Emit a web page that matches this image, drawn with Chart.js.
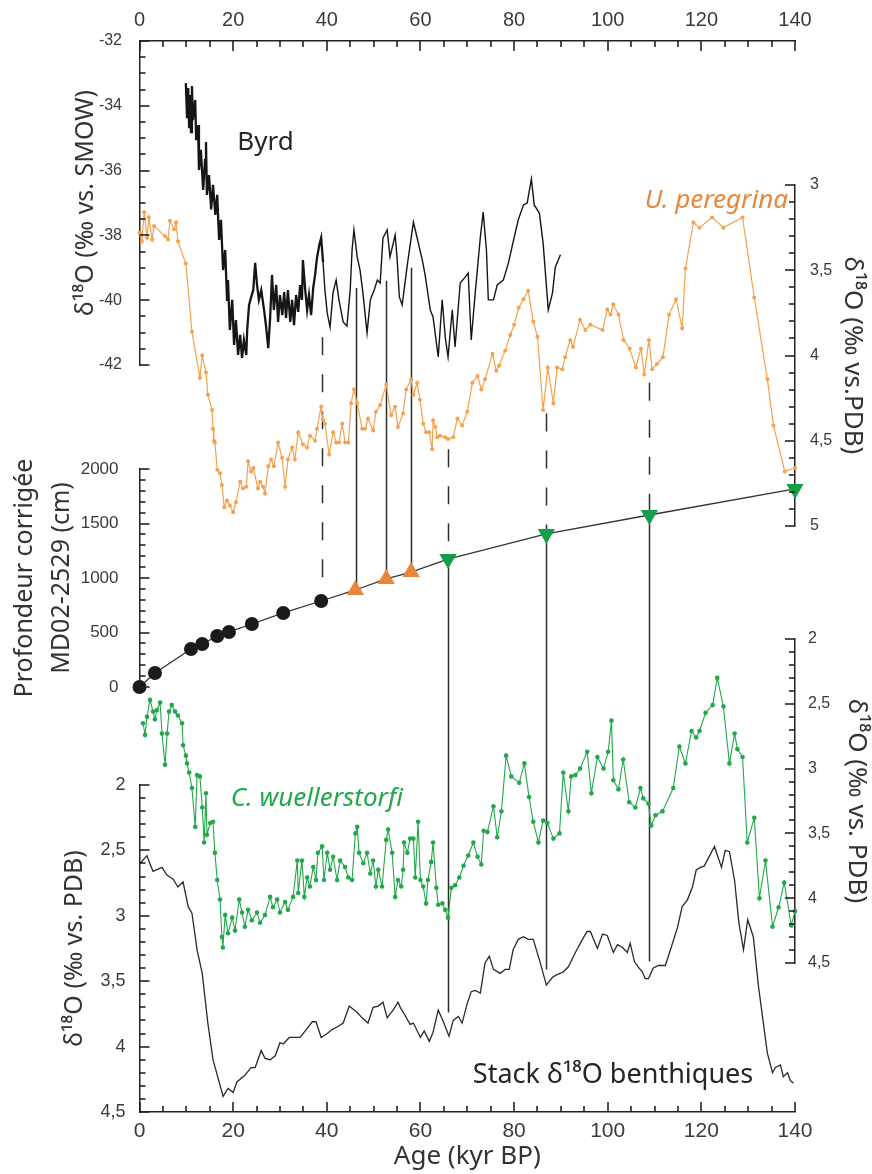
<!DOCTYPE html>
<html>
<head>
<meta charset="utf-8">
<script src="https://cdn.jsdelivr.net/npm/chart.js@4.4.1/dist/chart.umd.min.js"></script>
<style>
  html, body { margin: 0; padding: 0; background: #fff; }
  #wrap { width: 872px; height: 1174px; }
</style>
</head>
<body>
<div id="wrap"><canvas id="chart" width="872" height="1174"></canvas></div>
<script>
/* ---- data ---- */

// Byrd ice core d18O (permil vs SMOW)
const byrdAge = [
  9.9, 10.15, 10.4, 10.6, 10.8, 11.0, 11.2, 11.4, 11.9, 12.1,
  12.5, 12.7, 13.1, 13.6, 14.0, 14.2, 14.4, 14.85, 15.3, 15.7,
  16.2, 16.6, 17.0, 17.4, 17.85, 18.3, 18.7, 18.9, 19.3, 19.8,
  20.2, 20.6, 21.05, 21.5, 21.9, 22.3, 22.8, 23.0, 23.4, 23.8,
  24.3, 24.7, 25.1, 25.5, 26.0, 26.6, 27.0, 27.5, 27.9, 28.3,
  28.7, 29.2, 29.6, 30.0, 30.5, 30.9, 31.3, 31.7, 32.2, 32.6,
  33.0, 33.45, 33.9, 34.3, 34.7, 34.9, 35.4, 35.8, 36.2, 36.65,
  37.1, 37.5, 37.9, 38.4, 38.8, 39.2, 39.6, 40.1, 40.7, 41.35,
  42.0, 42.6, 43.5, 44.3, 45.0, 45.4, 45.8, 46.5, 47.1, 47.7,
  48.6, 49.3, 50.1, 50.8, 51.4, 52.0, 52.9, 53.5, 54.6, 55.0,
  55.5, 56.1, 57.2, 58.5, 59.3, 60.4, 61.0, 62.1, 62.7, 63.8,
  64.65, 65.3, 65.9, 66.8, 67.4, 68.5, 69.6, 70.2, 70.85, 71.7,
  72.8, 73.4, 74.1, 74.5, 75.6, 76.4, 77.7, 78.8, 79.9, 80.9,
  82.0, 82.8, 83.7, 84.3, 85.4, 86.2, 87.3, 88.2, 88.8, 89.9
];
const byrdD18O = [
  -33.30, -34.38, -33.45, -34.69, -33.67, -34.81, -33.39, -34.44, -33.82, -35.06,
  -34.59, -35.98, -35.36, -36.60, -35.67, -35.12, -36.75, -36.14, -37.20, -36.44,
  -37.37, -36.75, -38.14, -37.52, -39.07, -38.45, -39.99, -39.38, -40.92, -39.99,
  -41.38, -40.61, -41.69, -41.07, -41.78, -41.23, -41.69, -40.92, -40.15, -39.93,
  -39.69, -38.85, -39.53, -39.99, -39.69, -40.30, -40.77, -41.48, -40.55, -39.22,
  -40.30, -39.53, -40.67, -39.84, -40.46, -39.75, -40.55, -39.69, -40.67, -39.99,
  -40.77, -39.84, -40.36, -39.53, -39.99, -38.76, -39.69, -40.30, -39.84, -40.46,
  -39.62, -39.22, -38.70, -38.30, -38.08, -38.82, -39.69, -40.40, -40.83, -39.75,
  -39.38, -39.99, -40.67, -40.80, -39.69, -38.45, -37.83, -38.67, -39.07, -39.75,
  -41.01, -39.99, -39.69, -39.38, -39.47, -38.08, -37.83, -38.67, -37.99, -38.67,
  -39.90, -40.15, -38.91, -37.59, -38.08, -38.76, -39.22, -40.30, -40.52, -41.75,
  -39.99, -41.14, -41.75, -40.30, -41.44, -39.47, -39.28, -39.16, -41.23, -39.78,
  -38.05, -37.28, -38.45, -39.99, -39.99, -39.53, -39.38, -38.85, -38.14, -37.52,
  -37.06, -37.00, -36.26, -37.06, -37.31, -38.23, -40.30, -39.78, -38.98, -38.60
];

// U. peregrina d18O (permil vs PDB)
const uperAge = [
  0, 0.2, 0.5, 1.0, 1.6, 2.0, 2.7, 3.1, 5.45, 6.1,
  6.5, 7.4, 7.8, 8.2, 9.9, 11.2, 12.9, 13.4, 14.2, 14.6,
  15.5, 15.7, 15.9, 16.1, 16.6, 17.2, 17.6, 18.1, 18.7, 19.3,
  20.0, 20.6, 21.5, 22.1, 22.8, 23.2, 23.8, 24.3, 25.3, 25.75,
  26.4, 26.8, 27.5, 28.1, 28.7, 29.6, 30.45, 31.1, 31.7, 32.6,
  33.2, 33.9, 34.9, 35.8, 36.4, 37.5, 37.9, 38.8, 39.2, 39.6,
  40.5, 41.35, 42.0, 42.6, 43.3, 43.9, 44.6, 45.2, 45.8, 46.5,
  47.55, 48.2, 48.8, 49.9, 50.5, 51.4, 52.7, 53.75, 54.6, 55.2,
  56.3, 56.95, 58.0, 58.5, 59.3, 59.9, 60.6, 61.2, 61.9, 62.5,
  62.7, 63.2, 63.6, 64.2, 65.3, 65.9, 67.0, 67.9, 68.9, 70.0,
  71.1, 72.2, 73.0, 73.8, 75.4, 76.2, 76.8, 78.1, 79.2, 80.0,
  81.0, 82.0, 83.0, 84.1, 85.0, 86.2, 87.2, 88.4, 89.2, 90.3,
  90.9, 92.0, 92.6, 94.1, 95.2, 96.3, 98.9, 99.9, 100.6, 101.2,
  102.3, 103.4, 104.7, 106.0, 107.1, 107.8, 108.8, 109.5, 110.5, 111.8,
  113.1, 114.6, 115.9, 116.6, 118.3, 119.6, 122.3, 124.7, 128.8, 131.3,
  134.1, 135.4, 137.8, 140.0
];
const uperD18O = [
  3.28, 3.29, 3.33, 3.16, 3.31, 3.19, 3.32, 3.24, 3.30, 3.32,
  3.21, 3.26, 3.22, 3.33, 3.46, 3.86, 4.13, 4.00, 4.10, 4.23,
  4.32, 4.43, 4.50, 4.51, 4.67, 4.69, 4.76, 4.89, 4.85, 4.88,
  4.92, 4.86, 4.74, 4.78, 4.77, 4.62, 4.68, 4.66, 4.78, 4.74,
  4.77, 4.81, 4.65, 4.61, 4.65, 4.51, 4.60, 4.77, 4.61, 4.54,
  4.61, 4.45, 4.52, 4.54, 4.47, 4.50, 4.43, 4.30, 4.38, 4.40,
  4.58, 4.45, 4.51, 4.51, 4.40, 4.51, 4.51, 4.28, 4.20, 4.28,
  4.43, 4.43, 4.37, 4.44, 4.33, 4.29, 4.17, 4.35, 4.30, 4.42,
  4.34, 4.20, 4.14, 4.23, 4.16, 4.26, 4.40, 4.45, 4.45, 4.55,
  4.38, 4.42, 4.48, 4.47, 4.48, 4.49, 4.48, 4.37, 4.41, 4.33,
  4.16, 4.12, 4.20, 4.14, 3.99, 4.09, 4.06, 3.97, 3.88, 3.82,
  3.72, 3.67, 3.62, 3.80, 3.89, 4.32, 4.07, 4.28, 4.07, 4.08,
  4.01, 3.91, 3.95, 3.79, 3.85, 3.82, 3.85, 3.73, 3.76, 3.70,
  3.76, 3.91, 3.96, 4.07, 3.96, 4.11, 3.91, 4.08, 4.05, 4.01,
  3.76, 3.67, 3.84, 3.49, 3.22, 3.25, 3.19, 3.25, 3.19, 3.66,
  4.14, 4.41, 4.68, 4.66
];

// corrected depth of core MD02-2529 (cm) at the tie points
const depthAge  = [0, 3.3, 11.0, 13.4, 16.6, 19.1, 24.0, 30.7, 38.8, 46.1, 52.7, 58.0, 65.9, 86.9, 108.9, 140];
const depthCm   = [0, 128, 349, 394, 468, 505, 578, 679, 789, 890, 991, 1055, 1174, 1404, 1578, 1817];
const depthKind = ['c', 'c', 'c', 'c', 'c', 'c', 'c', 'c', 'c', 'u', 'u', 'u', 'd', 'd', 'd', 'd'];

// C. wuellerstorfi d18O (permil vs PDB)
const cwueAge = [
  0.75, 1.2, 1.6, 2.25, 2.9, 3.3, 3.7, 4.4, 4.8, 5.45,
  5.9, 6.3, 6.9, 7.6, 8.2, 9.1, 9.3, 9.9, 10.15, 10.6,
  11.2, 11.9, 12.3, 12.9, 13.4, 13.8, 14.2, 14.4, 15.1, 15.7,
  16.1, 16.6, 17.2, 17.6, 17.8, 18.3, 18.9, 19.8, 20.4, 21.3,
  21.9, 22.5, 23.2, 24.0, 25.1, 25.75, 26.8, 27.9, 28.5, 29.4,
  30.0, 31.1, 31.7, 32.8, 33.7, 33.9, 34.7, 35.2, 35.8, 36.4,
  37.1, 37.7, 38.1, 39.0, 39.4, 40.1, 40.7, 41.35, 42.2, 42.85,
  43.9, 44.6, 45.4, 46.1, 46.5, 46.9, 47.8, 48.6, 49.3, 49.9,
  50.5, 51.0, 51.8, 52.7, 53.1, 53.96, 54.6, 55.2, 55.9, 56.3,
  56.5, 57.2, 57.8, 58.5, 58.9, 59.5, 60.0, 60.6, 61.2, 61.6,
  62.3, 62.7, 63.4, 63.8, 64.7, 65.3, 65.9, 66.6, 67.4, 68.3,
  69.2, 70.2, 71.3, 72.2, 73.0, 73.5, 74.3, 75.6, 76.4, 77.3,
  78.3, 79.4, 81.1, 82.2, 83.2, 84.1, 85.2, 86.2, 87.1, 88.4,
  89.7, 90.5, 91.6, 92.2, 93.1, 94.1, 95.6, 96.5, 97.8, 99.1,
  100.1, 100.8, 101.2, 102.3, 103.3, 104.6, 105.9, 107.0, 107.6, 108.7,
  109.3, 110.2, 111.7, 114.0, 115.3, 116.6, 117.9, 118.9, 119.6, 120.9,
  122.4, 123.4, 124.7, 126.0, 127.1, 127.7, 128.8, 129.8, 131.3, 132.4,
  133.7, 135.2, 136.5, 137.7, 139.2, 140.0
];
const cwueD18O = [
  2.65, 2.74, 2.60, 2.47, 2.56, 2.62, 2.55, 2.49, 2.73, 2.97,
  2.73, 2.56, 2.51, 2.56, 2.59, 2.65, 2.82, 2.90, 2.96, 3.03,
  3.15, 3.45, 3.05, 3.06, 3.30, 3.57, 3.19, 3.51, 3.42, 3.41,
  3.65, 3.86, 4.01, 4.30, 4.38, 4.13, 4.27, 4.15, 4.25, 4.01,
  4.11, 4.22, 4.09, 4.17, 4.11, 4.19, 4.13, 3.99, 4.07, 4.01,
  4.11, 4.03, 4.09, 3.99, 3.71, 3.96, 3.71, 3.99, 3.84, 3.91,
  3.76, 3.86, 3.65, 3.60, 3.86, 3.65, 3.78, 3.68, 3.86, 3.71,
  3.76, 3.84, 3.86, 3.50, 3.45, 3.65, 3.73, 3.65, 3.81, 3.71,
  3.91, 3.78, 3.91, 3.55, 3.47, 3.65, 3.99, 3.86, 3.91, 3.78,
  3.57, 3.65, 3.54, 3.54, 3.84, 3.41, 3.86, 3.91, 4.04, 3.86,
  3.72, 3.57, 3.92, 4.05, 4.04, 4.09, 4.15, 3.92, 3.90, 3.84,
  3.75, 3.67, 3.57, 3.68, 3.74, 3.48, 3.49, 3.29, 3.53, 3.33,
  2.90, 3.06, 3.11, 2.96, 3.22, 3.41, 3.57, 3.40, 3.42, 3.54,
  3.50, 3.03, 3.33, 3.06, 3.05, 3.00, 2.87, 3.19, 2.91, 3.00,
  2.87, 2.63, 3.09, 3.16, 2.93, 3.26, 3.30, 3.15, 3.23, 3.27,
  3.44, 3.36, 3.33, 3.15, 2.83, 2.96, 2.71, 2.76, 2.71, 2.57,
  2.51, 2.30, 2.52, 2.96, 2.73, 2.85, 2.91, 3.57, 3.38, 4.00,
  3.71, 4.22, 4.07, 3.88, 4.21, 4.10
];

// benthic d18O stack (permil vs PDB)
const stackAge = [
  0.1, 1.6, 2.2, 2.9, 4.8, 5.9, 7.2, 8.2, 9.3, 10.4,
  11.2, 12.3, 13.4, 14.6, 15.7, 17.85, 18.9, 20.0, 20.8, 22.5,
  23.8, 24.7, 26.0, 26.8, 27.9, 29.0, 30.0, 30.7, 32.0, 32.8,
  34.3, 35.6, 36.9, 37.7, 38.8, 40.1, 41.1, 42.2, 43.5, 44.8,
  46.5, 47.55, 48.8, 49.9, 51.0, 52.0, 52.9, 54.2, 55.2, 55.7,
  56.7, 57.8, 58.5, 60.0, 60.8, 61.9, 62.7, 63.8, 64.9, 66.1,
  67.0, 68.1, 68.9, 70.0, 70.85, 71.7, 72.8, 73.8, 74.7, 75.6,
  77.0, 78.1, 78.97, 79.8, 80.9, 82.0, 83.0, 84.1, 85.6, 86.9,
  88.2, 89.2, 90.5, 91.6, 93.1, 94.6, 95.6, 96.3, 97.8, 98.9,
  99.9, 101.2, 102.1, 103.1, 104.2, 104.8, 105.7, 106.5, 107.4, 108.0,
  108.7, 109.7, 110.8, 112.3, 113.4, 114.9, 115.9, 117.0, 118.1, 118.9,
  119.8, 120.6, 122.8, 124.3, 125.1, 126.0, 127.1, 128.0, 129.0, 129.9,
  131.1, 132.2, 134.1, 135.2, 135.8, 136.9, 137.5, 138.4, 139.0, 139.7
];
const stackD18O = [
  2.60, 2.54, 2.60, 2.66, 2.63, 2.69, 2.72, 2.78, 2.74, 2.93,
  2.98, 3.26, 3.44, 3.82, 4.10, 4.38, 4.32, 4.35, 4.27, 4.22,
  4.16, 4.16, 4.03, 4.09, 4.10, 4.07, 3.97, 3.98, 3.93, 3.93,
  3.93, 3.87, 3.81, 3.81, 3.93, 3.90, 3.87, 3.85, 3.82, 3.69,
  3.74, 3.78, 3.82, 3.70, 3.69, 3.66, 3.78, 3.72, 3.66, 3.70,
  3.76, 3.83, 3.82, 3.93, 3.88, 3.96, 3.89, 3.72, 3.81, 3.92,
  3.80, 3.77, 3.82, 3.67, 3.58, 3.57, 3.59, 3.36, 3.31, 3.41,
  3.44, 3.41, 3.41, 3.26, 3.18, 3.16, 3.18, 3.18, 3.36, 3.53,
  3.47, 3.45, 3.43, 3.39, 3.28, 3.18, 3.12, 3.12, 3.25, 3.14,
  3.15, 3.28, 3.22, 3.24, 3.28, 3.21, 3.35, 3.39, 3.43, 3.48,
  3.48, 3.40, 3.38, 3.38, 3.26, 3.09, 2.93, 2.88, 2.78, 2.65,
  2.63, 2.62, 2.47, 2.63, 2.50, 2.51, 2.73, 3.05, 3.26, 3.03,
  3.16, 3.54, 4.05, 4.20, 4.16, 4.14, 4.23, 4.20, 4.26, 4.28
];

// tie lines between records: age, start (axis, value), end (axis, value)
const tieAge      = [39.0, 46.3, 52.7, 58.0, 65.9, 86.9, 108.9, 65.9, 86.9, 108.9];
const tieFromAxis = ['yByrd', 'yByrd', 'yByrd', 'yByrd', 'yPer', 'yPer', 'yPer', 'yDepth', 'yDepth', 'yDepth'];
const tieFromVal  = [-41.14, -39.62, -39.40, -39.00, 4.55, 4.34, 4.16, 1174, 1404, 1578];
const tieToAxis   = ['yDepth', 'yDepth', 'yDepth', 'yDepth', 'yDepth', 'yDepth', 'yDepth', 'yStack', 'yStack', 'yStack'];
const tieToVal    = [789, 890, 991, 1055, 1174, 1404, 1578, 3.74, 3.41, 3.35];
const tieDashed   = [true, false, false, false, true, true, true, false, false, false];

// tick labels
const ageMajors   = [0, 20, 40, 60, 80, 100, 120, 140];
const byrdMajors  = [-42, -40, -38, -36, -34, -32];
const perMajors   = [3, 3.5, 4, 4.5, 5];
const depthMajors = [0, 500, 1000, 1500, 2000];
const cwueMajors  = [2, 2.5, 3, 3.5, 4, 4.5];
const stackMajors = [2, 2.5, 3, 3.5, 4, 4.5];

/* ---- styling ---- */
const AXIS = '#222222';
const TEXT = '#3a3a3a';
const TICK_FONT = '"Liberation Sans", Arial, sans-serif';
const TITLE_FONT = '"Noto Sans", "Open Sans", sans-serif';
const ORANGE = '#F4A24F', ORANGE_DK = '#E8873B';
const GREEN = '#22A84B', GREEN_DK = '#14A04A';
const LEFT_W = 139.5, RIGHT_W = 77, TOP_H = 41, BOTTOM_H = 62;

const majorsById = {
  x: ageMajors, xTop: ageMajors, yByrd: byrdMajors, yDepth: depthMajors,
  yStack: stackMajors, yPer: perMajors, yWue: cwueMajors
};

function tickValues(lo, hi, step) {
  const out = [];
  for (let i = 0; lo + i * step <= hi + 1e-9; i++) out.push(+(lo + i * step).toFixed(4));
  return out;
}
const isMajorOf = (list, v) => list.some(m => Math.abs(m - v) < 1e-6);
const fmt = v => String(v).replace('.', ',');
const pts = (ages, vals) => ages.map((a, i) => ({ x: a, y: vals[i] }));
const pick = (arr, kind) => arr.filter((_, i) => depthKind[i] === kind);

function yAxis(c) {
  const left = c.position === 'left';
  return {
    type: 'linear', axis: 'y', position: c.position,
    stack: left ? 'L' : 'R', stackWeight: c.span, weight: c.weight,
    min: c.min, max: c.max, reverse: !!c.reverse,
    afterBuildTicks: s => { s.ticks = tickValues(c.min, c.max, c.minor).map(v => ({ value: v })); },
    afterFit: s => { s.width = left ? LEFT_W : RIGHT_W; },
    border: { display: true, color: AXIS, width: 1.5 },
    grid: { display: false, drawTicks: false, tickLength: 0 },
    ticks: {
      autoSkip: false, padding: c.pad, color: TEXT,
      font: { family: TICK_FONT, size: c.size },
      callback: v => isMajorOf(c.majors, v) ? fmt(v) : ''
    },
    title: {
      display: true, text: c.title, color: '#333',
      font: { family: TITLE_FONT, size: c.tsize, lineHeight: c.tlh || 1.2 },
      padding: { top: c.tpad, bottom: 0 }
    }
  };
}

function gap(position, span, weight) {
  return { type: 'linear', axis: 'y', position, display: false,
           stack: position === 'left' ? 'L' : 'R', stackWeight: span, weight };
}

function xAxis(position, size, pad, title) {
  const top = position === 'top';
  return {
    type: 'linear', axis: 'x', position, min: 0, max: 140,
    afterBuildTicks: s => { s.ticks = tickValues(0, 140, 5).map(v => ({ value: v })); },
    afterFit: s => { s.height = top ? TOP_H : BOTTOM_H; },
    border: { display: true, color: AXIS, width: 1.5 },
    grid: { display: false, drawTicks: false, tickLength: 0 },
    ticks: {
      autoSkip: false, maxRotation: 0, minRotation: 0, padding: pad, color: TEXT,
      font: { family: TICK_FONT, size },
      callback: v => ageMajors.includes(v) ? String(v) : ''
    },
    title: title
      ? { display: true, text: title, color: '#333', font: { family: TITLE_FONT, size: 26 }, padding: { top: 0, bottom: 2 } }
      : { display: false }
  };
}

// annotation texts placed in data coordinates
const notes = [
  { text: 'Byrd', axis: 'yByrd', age: 20.9, value: -35.36, color: '#262626', italic: false, size: 26, align: 'left' },
  { text: 'U. peregrina', axis: 'yPer', age: 138.5, value: 3.135, color: ORANGE_DK, italic: true, size: 26, align: 'right' },
  { text: 'C. wuellerstorfi', axis: 'yWue', age: 19.5, value: 3.29, color: GREEN, italic: true, size: 26, align: 'left' },
  { text: 'Stack \u03b4\u00b9\u2078O benthiques', axis: 'yStack', age: 71.2, value: 4.28, color: '#262626', italic: false, size: 27, align: 'left' }
];

// inward tick marks (major 10 px, minor 5 px) along every visible axis
const tickMarkPlugin = {
  id: 'tickMarks',
  afterDraw(chart) {
    const ctx = chart.ctx;
    ctx.save();
    ctx.strokeStyle = AXIS;
    ctx.lineWidth = 1.6;
    Object.keys(majorsById).forEach(id => {
      const s = chart.scales[id];
      if (!s) return;
      s.ticks.forEach(t => {
        const len = isMajorOf(majorsById[id], t.value) ? 10 : 6;
        const p = Math.round(s.getPixelForValue(t.value));
        ctx.beginPath();
        if (s.position === 'left') { ctx.moveTo(s.right, p); ctx.lineTo(s.right + len, p); }
        else if (s.position === 'right') { ctx.moveTo(s.left, p); ctx.lineTo(s.left - len, p); }
        else if (s.position === 'top') { ctx.moveTo(p, s.bottom); ctx.lineTo(p, s.bottom + len); }
        else { ctx.moveTo(p, s.top); ctx.lineTo(p, s.top - len); }
        ctx.stroke();
      });
    });
    ctx.restore();
  }
};

const tiePlugin = {
  id: 'ties',
  beforeDatasetsDraw(chart) {
    const ctx = chart.ctx, xs = chart.scales.x;
    tieAge.forEach((age, i) => {
      const px = Math.round(xs.getPixelForValue(age)) + 0.5;
      const y1 = chart.scales[tieFromAxis[i]].getPixelForValue(tieFromVal[i]);
      const y2 = chart.scales[tieToAxis[i]].getPixelForValue(tieToVal[i]);
      ctx.save();
      ctx.strokeStyle = '#2e2e2e';
      ctx.lineWidth = 1.5;
      ctx.setLineDash(tieDashed[i] ? [18, 19] : []);
      ctx.beginPath(); ctx.moveTo(px, y1); ctx.lineTo(px, y2); ctx.stroke();
      ctx.restore();
    });
  }
};

const notePlugin = {
  id: 'notes',
  afterDatasetsDraw(chart) {
    const ctx = chart.ctx;
    notes.forEach(n => {
      const x = chart.scales.x.getPixelForValue(n.age);
      const y = chart.scales[n.axis].getPixelForValue(n.value);
      ctx.save();
      ctx.font = (n.italic ? 'italic ' : '') + n.size + 'px ' + TITLE_FONT;
      ctx.fillStyle = n.color;
      ctx.textAlign = n.align;
      ctx.textBaseline = 'alphabetic';
      ctx.fillText(n.text, x, y);
      ctx.restore();
    });
  }
};

const D18 = '\u03b4\u00b9\u2078O';

new Chart(document.getElementById('chart'), {
  type: 'line',
  data: {
    datasets: [
      { data: pts(pick(depthAge, 'c'), pick(depthCm, 'c')), yAxisID: 'yDepth', showLine: false,
        pointRadius: 7, pointBackgroundColor: '#1a1a1a', pointBorderWidth: 0 },
      { data: pts(pick(depthAge, 'u'), pick(depthCm, 'u')), yAxisID: 'yDepth', showLine: false,
        pointStyle: 'triangle', pointRadius: 10, pointBackgroundColor: ORANGE_DK, pointBorderWidth: 0 },
      { data: pts(pick(depthAge, 'd'), pick(depthCm, 'd')), yAxisID: 'yDepth', showLine: false,
        pointStyle: 'triangle', pointRotation: 180, pointRadius: 10, pointBackgroundColor: GREEN_DK, pointBorderWidth: 0 },
      { data: pts(depthAge, depthCm), yAxisID: 'yDepth', borderColor: '#333', borderWidth: 1.3, pointRadius: 0 },
      { data: pts(byrdAge, byrdD18O), yAxisID: 'yByrd', borderColor: '#151515', pointRadius: 0,
        borderWidth: 1.5, segment: { borderWidth: c => c.p0.parsed.x < 39 ? 2.3 : 1.4 } },
      { data: pts(uperAge, uperD18O), yAxisID: 'yPer', borderColor: ORANGE, borderWidth: 1.2,
        pointRadius: 2, pointBackgroundColor: ORANGE, pointBorderWidth: 0 },
      { data: pts(cwueAge, cwueD18O), yAxisID: 'yWue', borderColor: GREEN, borderWidth: 1.1,
        pointRadius: 2.3, pointBackgroundColor: GREEN, pointBorderWidth: 0 },
      { data: pts(stackAge, stackD18O), yAxisID: 'yStack', borderColor: '#2a2a2a', borderWidth: 1.3, pointRadius: 0 }
    ].map(d => Object.assign({ xAxisID: 'x', clip: false, tension: 0, fill: false }, d))
  },
  options: {
    responsive: false,
    animation: false,
    devicePixelRatio: 1,
    layout: { padding: 0 },
    events: [],
    plugins: { legend: { display: false }, tooltip: { enabled: false } },
    scales: {
      x: xAxis('bottom', 21, 6.5, 'Age (kyr BP)'),
      xTop: xAxis('top', 20, 9),
      yByrd: yAxis({ position: 'left', span: 324, weight: 50, min: -42, max: -32, minor: 0.5,
        majors: byrdMajors, pad: 17.5, size: 16, title: D18 + ' (\u2030 vs. SMOW)', tsize: 25, tpad: 71 }),
      gapL1: gap('left', 104, 40),
      yDepth: yAxis({ position: 'left', span: 218, weight: 30, min: 0, max: 2000, minor: 100,
        majors: depthMajors, pad: 21, size: 17, title: ['Profondeur corrig\u00e9e', 'MD02-2529 (cm)'],
        tsize: 25, tlh: 1.45, tpad: 7 }),
      gapL2: gap('left', 98, 20),
      yStack: yAxis({ position: 'left', span: 327, weight: 10, min: 2, max: 4.5, minor: 0.1, reverse: true,
        majors: stackMajors, pad: 14, size: 18, title: D18 + ' (\u2030 vs. PDB)', tsize: 25, tpad: 60 }),
      gapR1: gap('right', 144, 10),
      yPer: yAxis({ position: 'right', span: 341, weight: 20, min: 3, max: 5, minor: 0.1, reverse: true,
        majors: perMajors, pad: 15, size: 16, title: D18 + ' (\u2030 vs.PDB)', tsize: 26, tpad: 4 }),
      gapR2: gap('right', 113, 30),
      yWue: yAxis({ position: 'right', span: 324, weight: 40, min: 2, max: 4.5, minor: 0.1, reverse: true,
        majors: cwueMajors, pad: 13, size: 16, title: D18 + ' (\u2030 vs. PDB)', tsize: 26, tpad: 0 }),
      gapR3: gap('right', 149, 50)
    }
  },
  plugins: [tickMarkPlugin, tiePlugin, notePlugin]
});
</script>
</body>
</html>
